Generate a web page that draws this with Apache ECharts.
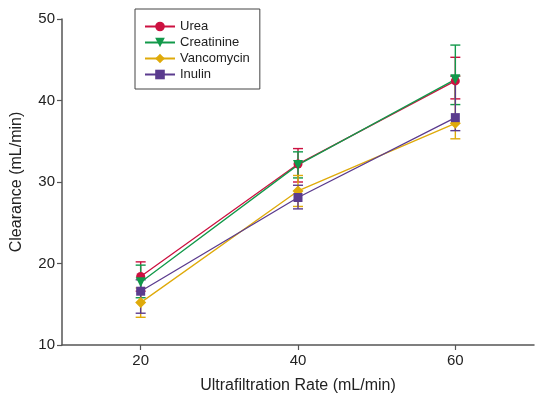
<!DOCTYPE html>
<html>
<head>
<meta charset="utf-8">
<script src="https://cdn.jsdelivr.net/npm/echarts@6/dist/echarts.min.js"></script>
<style>
  html, body { margin: 0; padding: 0; background: #fff; }
  #chart { width: 535px; height: 396px; }
</style>
</head>
<body>
<div id="chart"></div>
<script>
// Ultrafiltration rates (mL/min)
const rates = [20, 40, 60];
const xTicks = [20, 40, 60];

// Mean clearance (mL/min) per solute
const urea = [18.4, 32.2, 42.4];
const creatinine = [17.7, 32.1, 42.6];
const vancomycin = [15.2, 28.9, 37.2];
const inulin = [16.6, 28.1, 37.9];

// Error bar bounds (low, high) per solute
const ureaLow = [16.6, 30.0, 40.2];
const ureaHigh = [20.2, 34.1, 45.3];
const creatinineLow = [15.8, 30.5, 39.5];
const creatinineHigh = [19.8, 33.7, 46.8];
const vancomycinLow = [13.4, 27.0, 35.3];
const vancomycinHigh = [17.0, 30.8, 43.0];
const inulinLow = [13.9, 26.7, 36.3];
const inulinHigh = [18.0, 29.6, 43.0];

const FONT = '"Liberation Sans", Arial, Helvetica, sans-serif';

const solutes = [
  { name: 'Urea', mean: urea, low: ureaLow, high: ureaHigh, color: '#cc1140', symbol: 'circle', size: 9, rotate: 0 },
  { name: 'Creatinine', mean: creatinine, low: creatinineLow, high: creatinineHigh, color: '#12994a', symbol: 'triangle', size: 10, rotate: 180 },
  { name: 'Vancomycin', mean: vancomycin, low: vancomycinLow, high: vancomycinHigh, color: '#dfaa0a', symbol: 'diamond', size: 11, rotate: 0 },
  { name: 'Inulin', mean: inulin, low: inulinLow, high: inulinHigh, color: '#5b3b8e', symbol: 'rect', size: 9, rotate: 0 }
];

function errorBarRenderer(color) {
  return function (params, api) {
    const x = api.value(0);
    const top = api.coord([x, api.value(2)]);
    const bottom = api.coord([x, api.value(1)]);
    const half = 5;
    const style = { stroke: color, lineWidth: 1.4, fill: null };
    return {
      type: 'group',
      children: [
        { type: 'line', shape: { x1: top[0], y1: top[1], x2: bottom[0], y2: bottom[1] }, style: style },
        { type: 'line', shape: { x1: top[0] - half, y1: top[1], x2: top[0] + half, y2: top[1] }, style: style },
        { type: 'line', shape: { x1: bottom[0] - half, y1: bottom[1], x2: bottom[0] + half, y2: bottom[1] }, style: style }
      ]
    };
  };
}

const series = [];
solutes.forEach(function (s) {
  series.push({
    name: s.name + ' error',
    type: 'custom',
    renderItem: errorBarRenderer(s.color),
    data: rates.map(function (r, i) { return [r, s.low[i], s.high[i]]; }),
    z: 2,
    silent: true
  });
});
solutes.forEach(function (s) {
  series.push({
    name: s.name,
    type: 'line',
    data: rates.map(function (r, i) { return [r, s.mean[i]]; }),
    symbol: s.symbol,
    symbolSize: s.size,
    symbolRotate: s.rotate,
    showAllSymbol: true,
    itemStyle: { color: s.color },
    lineStyle: { color: s.color, width: 1.3 },
    z: 3,
    animation: false
  });
});

const chart = echarts.init(document.getElementById('chart'), null, { renderer: 'canvas' });
chart.setOption({
  animation: false,
  backgroundColor: '#fff',
  textStyle: { fontFamily: FONT },
  grid: { left: 62, top: 19, right: 1, bottom: 51, containLabel: false, outerBoundsMode: 'none' },
  legend: {
    data: solutes.map(function (s) { return s.name; }),
    orient: 'vertical',
    left: 135,
    top: 9,
    padding: [11, 10, 8, 9],
    itemWidth: 30,
    itemHeight: 12,
    itemGap: 3,
    borderColor: '#444',
    borderWidth: 1,
    backgroundColor: '#fff',
    textStyle: { fontFamily: FONT, fontSize: 13, color: '#222', lineHeight: 13 }
  },
  xAxis: {
    type: 'value',
    min: 10,
    max: 70,
    name: 'Ultrafiltration Rate (mL/min)',
    nameLocation: 'middle',
    nameGap: 33,
    nameTextStyle: { fontFamily: FONT, fontSize: 16, color: '#222' },
    axisLine: { lineStyle: { color: '#555', width: 1.5 } },
    axisTick: { show: true, customValues: xTicks, length: 5, lineStyle: { color: '#555', width: 1.2 } },
    axisLabel: { customValues: xTicks, fontFamily: FONT, fontSize: 15, color: '#222', margin: 8 },
    splitLine: { show: false }
  },
  yAxis: {
    type: 'value',
    min: 10,
    max: 50,
    interval: 10,
    name: 'Clearance (mL/min)',
    nameLocation: 'middle',
    nameGap: 37,
    nameTextStyle: { fontFamily: FONT, fontSize: 16, color: '#222' },
    axisLine: { show: true, lineStyle: { color: '#555', width: 1.5 } },
    axisTick: { show: true, length: 5, lineStyle: { color: '#555', width: 1.2 } },
    axisLabel: { fontFamily: FONT, fontSize: 15, color: '#222', margin: 7 },
    splitLine: { show: false }
  },
  series: series
});
</script>
</body>
</html>
